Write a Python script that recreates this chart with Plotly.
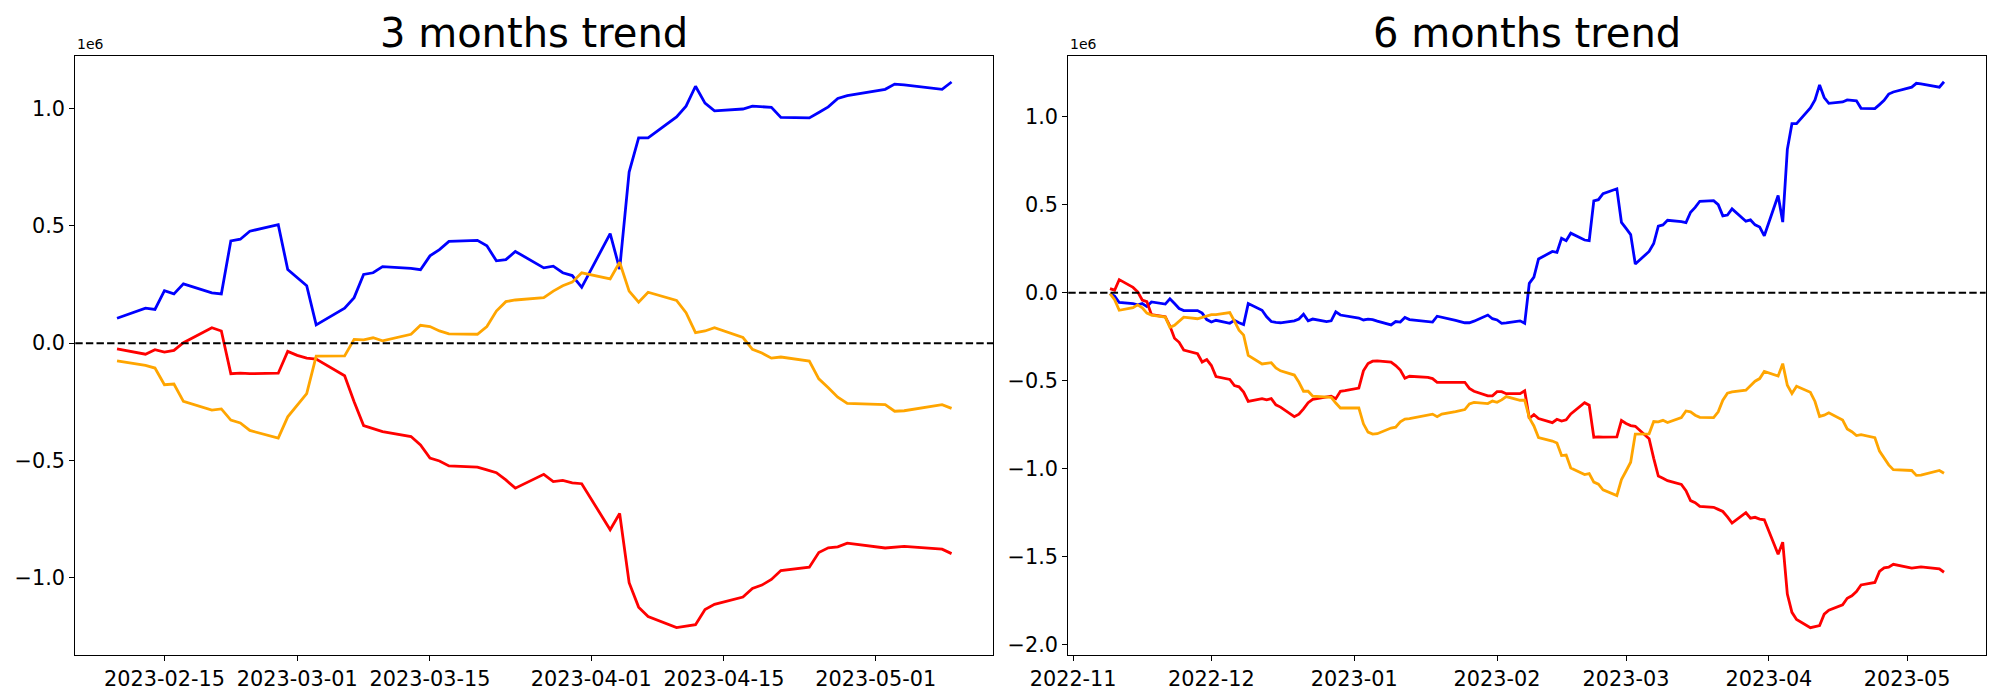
import plotly.graph_objects as go

# ---------------- data (values in units of 1e6) ----------------
dates_3m = ["2023-02-10", "2023-02-13", "2023-02-14", "2023-02-15", "2023-02-16", "2023-02-17",
            "2023-02-20", "2023-02-21", "2023-02-22", "2023-02-23", "2023-02-24", "2023-02-27",
            "2023-02-28", "2023-03-01", "2023-03-02", "2023-03-03", "2023-03-06", "2023-03-07",
            "2023-03-08", "2023-03-09", "2023-03-10", "2023-03-13", "2023-03-14", "2023-03-15",
            "2023-03-16", "2023-03-17", "2023-03-20", "2023-03-21", "2023-03-22", "2023-03-23",
            "2023-03-24", "2023-03-27", "2023-03-28", "2023-03-29", "2023-03-30", "2023-03-31",
            "2023-04-03", "2023-04-04", "2023-04-05", "2023-04-06", "2023-04-07", "2023-04-10",
            "2023-04-11", "2023-04-12", "2023-04-13", "2023-04-14", "2023-04-17", "2023-04-18",
            "2023-04-19", "2023-04-20", "2023-04-21", "2023-04-24", "2023-04-25", "2023-04-26",
            "2023-04-27", "2023-04-28", "2023-05-02", "2023-05-03", "2023-05-04", "2023-05-08",
            "2023-05-09"]

blue_3m = [0.106, 0.149, 0.144, 0.224, 0.210, 0.253, 0.214, 0.210, 0.436, 0.443, 0.477, 0.505,
           0.314, 0.280, 0.245, 0.078, 0.149, 0.194, 0.293, 0.300, 0.326, 0.319, 0.313, 0.372,
           0.399, 0.434, 0.438, 0.415, 0.351, 0.356, 0.391, 0.321, 0.328, 0.300, 0.288, 0.238,
           0.467, 0.316, 0.729, 0.875, 0.875, 0.964, 1.010, 1.095, 1.023, 0.990, 0.998, 1.010,
           1.008, 1.005, 0.962, 0.960, 0.983, 1.007, 1.043, 1.055, 1.082, 1.104, 1.101, 1.082,
           1.113]

red_3m = [-0.024, -0.047, -0.028, -0.038, -0.031, 0.002, 0.066, 0.052, -0.130, -0.128, -0.130, -0.128,
          -0.035, -0.052, -0.064, -0.068, -0.139, -0.250, -0.351, -0.363, -0.377, -0.398, -0.434, -0.490,
          -0.502, -0.523, -0.528, -0.540, -0.552, -0.583, -0.618, -0.559, -0.590, -0.585, -0.595, -0.599,
          -0.795, -0.726, -1.021, -1.125, -1.165, -1.212, -1.206, -1.200, -1.135, -1.113, -1.082, -1.045,
          -1.031, -1.007, -0.969, -0.955, -0.892, -0.872, -0.868, -0.852, -0.873, -0.868, -0.866, -0.878,
          -0.897]

orange_3m = [-0.075, -0.095, -0.106, -0.177, -0.174, -0.248, -0.285, -0.280, -0.328, -0.340, -0.372, -0.405,
             -0.314, -0.265, -0.215, -0.055, -0.054, 0.016, 0.014, 0.023, 0.010, 0.038, 0.076, 0.071,
             0.052, 0.040, 0.038, 0.071, 0.137, 0.177, 0.184, 0.194, 0.222, 0.245, 0.260, 0.300,
             0.274, 0.345, 0.222, 0.175, 0.217, 0.182, 0.130, 0.045, 0.052, 0.066, 0.024, -0.026,
             -0.042, -0.064, -0.059, -0.076, -0.152, -0.190, -0.230, -0.257, -0.262, -0.290, -0.288, -0.262,
             -0.278]

dates_6m = ["2022-11-09", "2022-11-10", "2022-11-11", "2022-11-14", "2022-11-15", "2022-11-16",
            "2022-11-17", "2022-11-18", "2022-11-21", "2022-11-22", "2022-11-23", "2022-11-24",
            "2022-11-25", "2022-11-28", "2022-11-29", "2022-11-30", "2022-12-01", "2022-12-02",
            "2022-12-05", "2022-12-06", "2022-12-07", "2022-12-08", "2022-12-09", "2022-12-12",
            "2022-12-13", "2022-12-14", "2022-12-15", "2022-12-16", "2022-12-19", "2022-12-20",
            "2022-12-21", "2022-12-22", "2022-12-23", "2022-12-26", "2022-12-27", "2022-12-28",
            "2022-12-29", "2022-12-30", "2023-01-02", "2023-01-03", "2023-01-04", "2023-01-05",
            "2023-01-06", "2023-01-09", "2023-01-10", "2023-01-11", "2023-01-12", "2023-01-13",
            "2023-01-16", "2023-01-17", "2023-01-18", "2023-01-19", "2023-01-20", "2023-01-23",
            "2023-01-24", "2023-01-25", "2023-01-26", "2023-01-27", "2023-01-30", "2023-01-31",
            "2023-02-01", "2023-02-02", "2023-02-03", "2023-02-06", "2023-02-07", "2023-02-08",
            "2023-02-09",
            "2023-02-10", "2023-02-13", "2023-02-14", "2023-02-15", "2023-02-16", "2023-02-17",
            "2023-02-20", "2023-02-21", "2023-02-22", "2023-02-23", "2023-02-24", "2023-02-27",
            "2023-02-28", "2023-03-01", "2023-03-02", "2023-03-03", "2023-03-06", "2023-03-07",
            "2023-03-08", "2023-03-09", "2023-03-10", "2023-03-13", "2023-03-14", "2023-03-15",
            "2023-03-16", "2023-03-17", "2023-03-20", "2023-03-21", "2023-03-22", "2023-03-23",
            "2023-03-24", "2023-03-27", "2023-03-28", "2023-03-29", "2023-03-30", "2023-03-31",
            "2023-04-03", "2023-04-04", "2023-04-05", "2023-04-06", "2023-04-07", "2023-04-10",
            "2023-04-11", "2023-04-12", "2023-04-13", "2023-04-14", "2023-04-17", "2023-04-18",
            "2023-04-19", "2023-04-20", "2023-04-21", "2023-04-24", "2023-04-25", "2023-04-26",
            "2023-04-27", "2023-04-28", "2023-05-02", "2023-05-03", "2023-05-04", "2023-05-08",
            "2023-05-09"]

blue_6m = [-0.005, -0.020, -0.056, -0.062, -0.069, -0.062, -0.079, -0.053, -0.065, -0.035, -0.062, -0.090,
           -0.102, -0.102, -0.116, -0.153, -0.167, -0.157, -0.174, -0.157, -0.171, -0.181, -0.062, -0.100,
           -0.137, -0.164, -0.169, -0.171, -0.160, -0.150, -0.123, -0.160, -0.150, -0.164, -0.160, -0.109,
           -0.127, -0.132, -0.144, -0.155, -0.150, -0.153, -0.162, -0.183, -0.164, -0.167, -0.141, -0.153,
           -0.162, -0.164, -0.167, -0.134, -0.139, -0.157, -0.164, -0.171, -0.171, -0.162, -0.127, -0.148,
           -0.155, -0.174, -0.171, -0.160, -0.174, 0.053, 0.088,
           0.191, 0.234, 0.229, 0.309, 0.295, 0.338, 0.299, 0.295, 0.521, 0.528, 0.562, 0.590,
           0.399, 0.365, 0.330, 0.163, 0.234, 0.279, 0.378, 0.385, 0.411, 0.404, 0.398, 0.457,
           0.484, 0.519, 0.523, 0.500, 0.436, 0.441, 0.476, 0.406, 0.413, 0.385, 0.373, 0.323,
           0.552, 0.401, 0.814, 0.960, 0.960, 1.049, 1.095, 1.180, 1.108, 1.075, 1.083, 1.095,
           1.093, 1.090, 1.047, 1.045, 1.068, 1.092, 1.128, 1.140, 1.167, 1.189, 1.186, 1.167,
           1.198]

red_6m = [0.023, 0.014, 0.074, 0.030, 0.005, -0.042, -0.051, -0.125, -0.137, -0.190, -0.259, -0.282,
          -0.326, -0.347, -0.394, -0.380, -0.414, -0.477, -0.493, -0.528, -0.535, -0.565, -0.618, -0.602,
          -0.609, -0.602, -0.637, -0.650, -0.704, -0.690, -0.660, -0.625, -0.606, -0.590, -0.588, -0.602,
          -0.560, -0.557, -0.542, -0.444, -0.403, -0.389, -0.387, -0.394, -0.414, -0.440, -0.486, -0.475,
          -0.481, -0.481, -0.488, -0.509, -0.509, -0.509, -0.509, -0.509, -0.544, -0.560, -0.586, -0.586,
          -0.562, -0.562, -0.574, -0.574, -0.558, -0.715, -0.692,
          -0.715, -0.738, -0.719, -0.729, -0.722, -0.689, -0.625, -0.639, -0.821, -0.819, -0.821, -0.819,
          -0.726, -0.743, -0.755, -0.759, -0.830, -0.941, -1.042, -1.054, -1.068, -1.089, -1.125, -1.181,
          -1.193, -1.214, -1.219, -1.231, -1.243, -1.274, -1.309, -1.250, -1.281, -1.276, -1.286, -1.290,
          -1.486, -1.417, -1.712, -1.816, -1.856, -1.903, -1.897, -1.891, -1.826, -1.804, -1.773, -1.736,
          -1.722, -1.698, -1.660, -1.646, -1.583, -1.563, -1.559, -1.543, -1.564, -1.559, -1.557, -1.569,
          -1.588]

orange_6m = [-0.005, -0.040, -0.100, -0.085, -0.069, -0.086, -0.116, -0.127, -0.139, -0.197, -0.185, -0.160,
             -0.139, -0.148, -0.139, -0.132, -0.125, -0.125, -0.113, -0.162, -0.213, -0.241, -0.356, -0.405,
             -0.400, -0.398, -0.428, -0.444, -0.468, -0.509, -0.560, -0.560, -0.588, -0.593, -0.595, -0.627,
             -0.655, -0.655, -0.655, -0.745, -0.792, -0.803, -0.801, -0.769, -0.764, -0.734, -0.718, -0.715,
             -0.699, -0.697, -0.690, -0.704, -0.690, -0.676, -0.670, -0.664, -0.632, -0.623, -0.630, -0.616,
             -0.623, -0.609, -0.590, -0.611, -0.611, -0.711, -0.757,
             -0.823, -0.843, -0.854, -0.925, -0.922, -0.996, -1.033, -1.028, -1.076, -1.088, -1.120, -1.153,
             -1.062, -1.013, -0.963, -0.803, -0.802, -0.732, -0.734, -0.725, -0.738, -0.710, -0.672, -0.677,
             -0.696, -0.708, -0.710, -0.677, -0.611, -0.571, -0.564, -0.554, -0.526, -0.503, -0.488, -0.448,
             -0.474, -0.403, -0.526, -0.573, -0.531, -0.566, -0.618, -0.703, -0.696, -0.682, -0.724, -0.774,
             -0.790, -0.812, -0.807, -0.824, -0.900, -0.938, -0.978, -1.005, -1.010, -1.038, -1.036, -1.010,
             -1.026]

ticks_3m = ["2023-02-15", "2023-03-01", "2023-03-15", "2023-04-01", "2023-04-15", "2023-05-01"]
ticks_6m = ["2022-11-01", "2022-12-01", "2023-01-01", "2023-02-01", "2023-03-01", "2023-04-01", "2023-05-01"]
yticks_3m = [-1.0, -0.5, 0.0, 0.5, 1.0]
yticks_6m = [-2.0, -1.5, -1.0, -0.5, 0.0, 0.5, 1.0]
titles = ["3 months trend", "6 months trend"]
offset_label = "1e6"


def fmt(v):
    s = f"{v:.1f}"
    return s.replace("-", "\u2212")


# page body has an 8px margin; size the figure to fit the 2000x700 window
PAD = 8
W, H = 2000 - 2 * PAD, 700 - 2 * PAD
FONT = "DejaVu Sans"
LW = 2.8


def px_x(p):
    return (p - PAD) / W


def px_y(p):
    return 1 - (p - PAD) / H


fig = go.Figure()
panels = [
    (dates_3m, [(blue_3m, "blue"), (red_3m, "red"), (orange_3m, "orange")], "x", "y"),
    (dates_6m, [(blue_6m, "blue"), (red_6m, "red"), (orange_6m, "orange")], "x2", "y2"),
]
for dates, series, xa, ya in panels:
    for vals, color in series:
        fig.add_trace(go.Scatter(x=dates, y=vals, mode="lines",
                                 line=dict(color=color, width=LW),
                                 xaxis=xa, yaxis=ya, showlegend=False, hoverinfo="skip"))

ydom = [px_y(655), px_y(55.5)]
common_ax = dict(showline=True, linecolor="black", linewidth=1.1, mirror=True,
                 ticks="outside", ticklen=5, tickwidth=1.1, tickcolor="black",
                 showgrid=False, zeroline=False, automargin=False,
                 tickfont=dict(family=FONT, size=20.8, color="black"))

fig.update_layout(
    width=W, height=H,
    margin=dict(l=0, r=0, t=0, b=0, autoexpand=False),
    paper_bgcolor="white", plot_bgcolor="white",
    font=dict(family=FONT, color="black"),
    xaxis=dict(domain=[px_x(75.3), px_x(993.3)], anchor="y",
               range=["2023-02-05 14:24", "2023-05-13 09:36"],
               tickmode="array", tickvals=ticks_3m, ticktext=ticks_3m, **common_ax),
    yaxis=dict(domain=ydom, anchor="x", range=[-1.329, 1.226],
               tickmode="array", tickvals=yticks_3m, ticktext=[fmt(v) for v in yticks_3m], **common_ax),
    xaxis2=dict(domain=[px_x(1068.3), px_x(1985.7)], anchor="y2",
                range=["2022-10-30 22:48", "2023-05-18 01:12"],
                tickmode="array", tickvals=ticks_6m, ticktext=[t[:7] for t in ticks_6m], **common_ax),
    yaxis2=dict(domain=ydom, anchor="x2", range=[-2.058, 1.347],
                tickmode="array", tickvals=yticks_6m, ticktext=[fmt(v) for v in yticks_6m], **common_ax),
)

for xa, ya in [("x", "y"), ("x2", "y2")]:
    fig.add_shape(type="line", xref=f"{xa} domain", yref=ya, x0=0, x1=1, y0=0, y1=0,
                  line=dict(color="black", width=2, dash="7.4px,3.2px"), layer="above")

for i, (xa, ya) in enumerate([("x", "y"), ("x2", "y2")]):
    fig.add_annotation(text=titles[i], xref=f"{xa} domain", yref="paper",
                       x=0.5, y=px_y(58), xanchor="center", yanchor="bottom",
                       showarrow=False, font=dict(family=FONT, size=40, color="black"))
    fig.add_annotation(text=offset_label, xref=f"{xa} domain", yref=f"{ya} domain",
                       x=0, y=1, xanchor="left", yanchor="bottom", yshift=1,
                       showarrow=False, font=dict(family=FONT, size=14, color="black"))

fig.write_html("out.html")
